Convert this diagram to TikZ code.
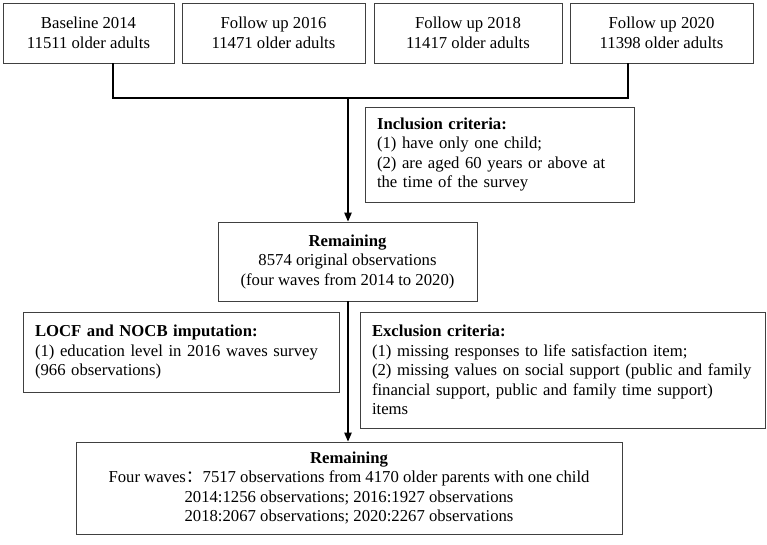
\documentclass[tikz,border=0pt]{standalone}
\usepackage{fontspec}
\setmainfont{Liberation Serif}
\newfontfamily\cjk{Noto Sans CJK SC}
\usetikzlibrary{arrows.meta}
\tikzset{
  box/.style={draw=black!75, line width=0.9pt, inner sep=0pt, align=center,
    font=\fontsize{16.7}{19.5}\selectfont, text=black},
  lbox/.style={draw=black!75, line width=0.9pt, inner xsep=12pt, inner ysep=0pt,
    align=left, font=\fontsize{16.7}{19.5}\selectfont, text=black},
  conn/.style={line width=1.1pt, black},
  arr/.style={conn, -{Triangle[length=9pt,width=7.5pt]}}
}
\begin{document}
\begin{tikzpicture}[x=1pt,y=-1pt]
\useasboundingbox (0,0) rectangle (767,545);
% top row
\node[box, minimum width=171pt, minimum height=60pt] (b1) at (88.5,33) {Baseline 2014\\11511 older adults};
\node[box, minimum width=183pt, minimum height=60pt] (b2) at (273.5,33) {Follow up 2016\\11471 older adults};
\node[box, minimum width=188pt, minimum height=60pt] (b3) at (468,33) {Follow up 2018\\11417 older adults};
\node[box, minimum width=183pt, minimum height=60pt] (b4) at (661.5,33) {Follow up 2020\\11398 older adults};
% inclusion
\node[lbox, text width=245pt, minimum height=95pt] (inc) at (499.5,154.5)
  {\textbf{Inclusion criteria:}\\\mbox{(1) have only one child;}\\\mbox{(2) are aged 60 years or above at}\\\mbox{the time of the survey}};
% remaining 1
\node[box, minimum width=259pt, minimum height=79pt] (rem1) at (347.5,261.5)
  {\textbf{Remaining}\\8574 original observations\\(four waves from 2014 to 2020)};
% LOCF
\node[lbox, text width=292pt, minimum height=80pt] (locf) at (181,352)
  {\textbf{LOCF and NOCB imputation:}\\\mbox{(1) education level in 2016 waves survey}\\\mbox{(966 observations)}};
% exclusion
\node[lbox, text width=381pt, minimum height=116pt] (exc) at (562.5,370)
  {\textbf{Exclusion criteria:}\\\mbox{(1) missing responses to life satisfaction item;}\\\mbox{(2) missing values on social support (public and family}\\\mbox{financial support, public and family time support)}\\items};
% remaining 2
\node[box, minimum width=546pt, minimum height=92pt] (rem2) at (349,488)
  {\textbf{Remaining}\\Four waves{\cjk ：}7517 observations from 4170 older parents with one child\\2014:1256 observations; 2016:1927 observations\\2018:2067 observations; 2020:2267 observations};
% connectors
\coordinate (j1) at (113,98);
\coordinate (j2) at (628,98);
\coordinate (j0) at (348,98);
\draw[conn] (b1.south -| j1) -- (j1) -- (j2) -- (b4.south -| j2);
\draw[arr] (j0) -- (rem1.north -| j0);
\draw[arr] (rem1.south -| j0) -- (rem2.north -| j0);
\end{tikzpicture}
\end{document}
